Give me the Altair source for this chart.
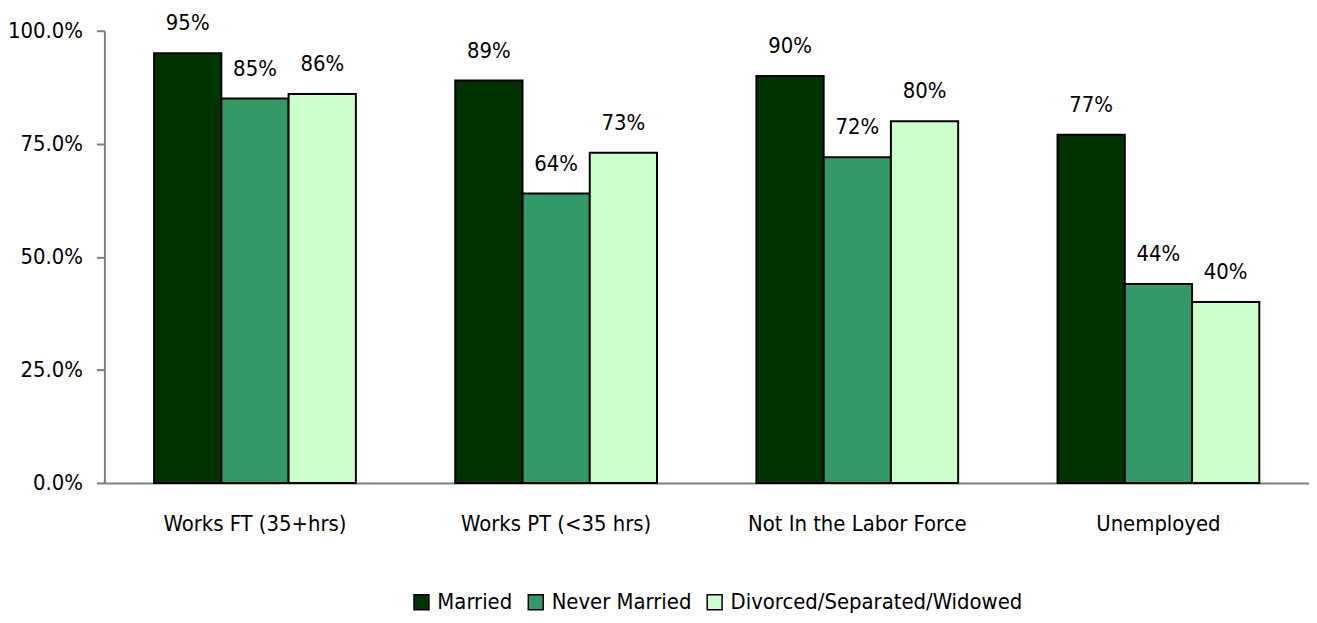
import altair as alt
import pandas as pd

categories = ["Works FT (35+hrs)", "Works PT (<35 hrs)", "Not In the Labor Force", "Unemployed"]
series = ["Married", "Never Married", "Divorced/Separated/Widowed"]
married = [0.95, 0.89, 0.90, 0.77]
never_married = [0.85, 0.64, 0.72, 0.44]
divorced = [0.86, 0.73, 0.80, 0.40]
colors = ["#003300", "#339966", "#CCFFCC"]

rows = []
for i, c in enumerate(categories):
    for s, vals in zip(series, [married, never_married, divorced]):
        rows.append({"category": c, "series": s, "value": vals[i]})
df = pd.DataFrame(rows)

FONT = "'Liberation Sans Narrow', 'Arial Narrow', 'DejaVu Sans Condensed', 'Liberation Sans', sans-serif"

x = alt.X("category:N", sort=categories, title=None,
          scale=alt.Scale(paddingInner=0.33, paddingOuter=0.165),
          axis=alt.Axis(labelAngle=0, labelFontSize=22, labelFont=FONT, labelColor="black",
                        labelLimit=400, ticks=False, grid=False, domainColor="#808080",
                        domainWidth=2, labelPadding=31))
xo = alt.XOffset("series:N", sort=series)
y = alt.Y("value:Q", title=None, scale=alt.Scale(domain=[0, 1], nice=False),
          axis=alt.Axis(format=".1%", values=[0, 0.25, 0.5, 0.75, 1.0], grid=False,
                        gridOpacity=0, labelFontSize=22, labelFont=FONT, labelColor="black",
                        tickSize=8, tickColor="#808080", tickWidth=2,
                        domainColor="#808080", domainWidth=2, labelPadding=14))

bars = alt.Chart(df).mark_bar(stroke="black", strokeWidth=2).encode(
    x=x, xOffset=xo, y=y,
    color=alt.Color("series:N", sort=series,
                    scale=alt.Scale(domain=series, range=colors),
                    legend=alt.Legend(title=None, orient="none", direction="horizontal",
                                      legendX=308, legendY=564,
                                      symbolType="square", symbolSize=225,
                                      symbolStrokeColor="black", symbolStrokeWidth=1.5,
                                      labelFontSize=22, labelFont=FONT, labelColor="black",
                                      labelLimit=400, columnPadding=12, labelOffset=5)),
)

labels = alt.Chart(df).mark_text(baseline="bottom", dy=-18, fontSize=22, font=FONT, color="black").encode(
    x=x, xOffset=xo, y=y,
    text=alt.Text("value:Q", format=".0%"),
)

chart = alt.layer(bars, labels).properties(
    width=1212, height=455,
    background="white",
    autosize=alt.AutoSizeParams(type="none"),
    padding={"left": 97, "top": 21, "right": 0, "bottom": 130},
).configure_view(stroke="transparent", strokeWidth=0, strokeOpacity=0).configure_axis(grid=False, gridOpacity=0)

chart.save("out.html", embed_options={"renderer": "svg", "actions": False})
